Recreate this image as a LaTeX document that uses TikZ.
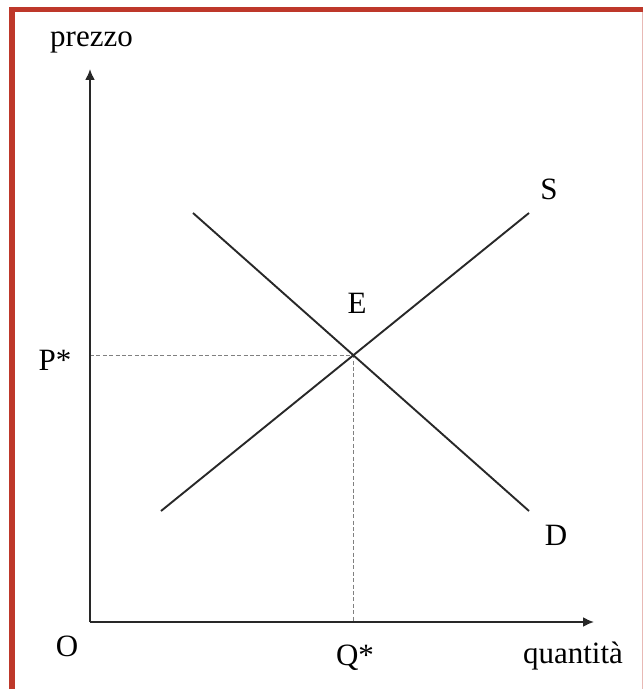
\documentclass[tikz,border=0pt]{standalone}
\usepackage{fontspec}
\setmainfont{Liberation Serif}
\usetikzlibrary{arrows.meta}
\definecolor{frame}{RGB}{190,56,42}
\definecolor{ink}{RGB}{40,40,40}
\tikzset{
  axisline/.style={draw=ink, line width=1pt, -{Latex[length=5.5pt,width=5pt]}},
  curveline/.style={draw=ink, line width=0.95pt},
  guide/.style={draw=gray, line width=0.7pt, dash pattern=on 2pt off 1.2pt},
  lbl/.style={anchor=base, inner sep=0pt, font=\fontsize{15.5pt}{18pt}\selectfont, text=black},
}
\begin{document}
\begin{tikzpicture}[x=0.5pt, y=-0.5pt]
\useasboundingbox (0,0) rectangle (643,689);
\fill[white] (0,0) rectangle (643,689);
% red frame
\fill[frame] (9,7) rectangle (15,689);
\fill[frame] (9,7) rectangle (643,12);
\draw[frame!35, line width=0.5pt] (642.5,12) -- (642.5,689);
% coordinates
\coordinate (O) at (90,622);
\coordinate (ytip) at (90,69);
\coordinate (xtip) at (594,622);
\coordinate (s0) at (161,511);
\coordinate (s1) at (529,213);
\coordinate (d0) at (193,213);
\coordinate (d1) at (529,511);
\coordinate (E) at (353.4,355.2);
\coordinate (pax) at (90,355.2);
\coordinate (qax) at (353.4,622);
% guides
\draw[guide] (pax) -- (E) -- (qax);
% curves
\draw[curveline] (s0) -- (s1);
\draw[curveline] (d0) -- (d1);
% axes
\draw[axisline] (O) -- (ytip);
\draw[axisline] (O) -- (xtip);
% labels
\node[lbl] (lprezzo) at (91.5,47) {prezzo};
\node[lbl] (lquant) at (573,663) {quantità};
\node[lbl] (lO) at (67,656) {O};
\node[lbl] (lQ) at (355,665) {Q*};
\node[lbl] (lP) at (55,370) {P*};
\node[lbl] (lE) at (357,313) {E};
\node[lbl] (lS) at (549,200) {S};
\node[lbl] (lD) at (556,545) {D};
\end{tikzpicture}
\end{document}
